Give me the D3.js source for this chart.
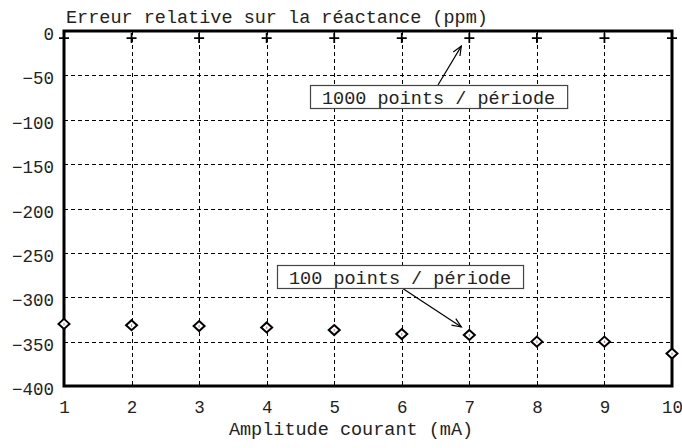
<!DOCTYPE html>
<html lang="fr">
<head>
  <meta charset="UTF-8">
  <script src="https://d3js.org/d3.v7.min.js"></script>
  <title>Erreur relative sur la réactance</title>
  <style>
    body { margin: 0; background: #fff; }
    text { font-family: "Liberation Mono", "Courier New", monospace; fill: #222; }
  </style>
</head>
<body>
  <div id="wrapper"></div>
  <script>
    // values
    const amplitudes = [1, 2, 3, 4, 5, 6, 7, 8, 9, 10]
    const err1000 = [-8, -8, -8, -8, -8, -8, -8, -8, -8, -8]
    const err100 = [-330, -331.5, -332.5, -334, -337, -341.5, -342.5, -350, -350, -363.5]
    const yTicks = [0, -50, -100, -150, -200, -250, -300, -350, -400]

    const dimensions = {
      width: 682,
      height: 448,
      margin: { top: 31, right: 10, bottom: 62, left: 64 }
    }
    dimensions.boundedWidth = dimensions.width - dimensions.margin.left - dimensions.margin.right
    dimensions.boundedHeight = dimensions.height - dimensions.margin.top - dimensions.margin.bottom

    const svg = d3.select("#wrapper")
      .append("svg")
      .attr("width", dimensions.width)
      .attr("height", dimensions.height)

    const bounds = svg.append("g")
      .attr("transform", `translate(${dimensions.margin.left},${dimensions.margin.top})`)

    const xScale = d3.scaleLinear()
      .domain([1, 10])
      .range([0, dimensions.boundedWidth])

    const yScale = d3.scaleLinear()
      .domain([-400, 0])
      .range([dimensions.boundedHeight, 0])

    /* grid */
    const grid = bounds.append("g")
      .attr("stroke", "#000")
      .attr("stroke-width", 1)
      .attr("stroke-dasharray", "4,3")

    grid.selectAll(".vgrid")
      .data(amplitudes.slice(1, -1))
      .join("line")
      .attr("x1", d => Math.round(xScale(d)) + 0.5)
      .attr("x2", d => Math.round(xScale(d)) + 0.5)
      .attr("y1", 0)
      .attr("y2", dimensions.boundedHeight)

    grid.selectAll(".hgrid")
      .data(yTicks.slice(1, -1))
      .join("line")
      .attr("x1", 0)
      .attr("x2", dimensions.boundedWidth)
      .attr("y1", d => Math.round(yScale(d)) + 0.5)
      .attr("y2", d => Math.round(yScale(d)) + 0.5)

    /* axes (labels only) */
    const yAxis = bounds.append("g")
      .call(d3.axisLeft(yScale).tickValues(yTicks).tickSize(0).tickPadding(10))
    yAxis.select(".domain").remove()
    yAxis.selectAll("text")
      .attr("dy", "0.49em")
      .style("font-size", "17.5px")
      .attr("fill", "#222")

    const xAxis = bounds.append("g")
      .attr("transform", `translate(0,${dimensions.boundedHeight})`)
      .call(d3.axisBottom(xScale).tickValues(amplitudes).tickFormat(d3.format("d")).tickSize(0).tickPadding(15))
    xAxis.select(".domain").remove()
    xAxis.selectAll("text")
      .style("font-size", "17.5px")
      .attr("fill", "#222")

    /* frame */
    bounds.append("rect")
      .attr("width", dimensions.boundedWidth)
      .attr("height", dimensions.boundedHeight)
      .attr("fill", "none")
      .attr("stroke", "#000")
      .attr("stroke-width", 3)

    /* 1000 points: crosses */
    const crosses = bounds.append("g")
      .selectAll("path")
      .data(amplitudes)
      .join("path")
      .attr("transform", (d, i) => `translate(${xScale(d)},${yScale(err1000[i])})`)
      .attr("d", "M-5,0H5M0,-5V5")
      .attr("stroke", "#000")
      .attr("stroke-width", 1.8)

    /* 100 points: diamonds */
    const diamonds = bounds.append("g")
      .selectAll("g")
      .data(amplitudes)
      .join("g")
      .attr("transform", (d, i) => `translate(${xScale(d)},${yScale(err100[i])})`)
    diamonds.append("path")
      .attr("d", "M0,-5L5.5,0L0,5L-5.5,0Z")
      .attr("fill", "#fff")
      .attr("stroke", "#000")
      .attr("stroke-width", 2)
    diamonds.append("line")
      .attr("y1", -1).attr("y2", 1.5)
      .attr("stroke", "#e04040")
      .attr("stroke-width", 0.8)

    /* annotations */
    const arrow = (g, x1, y1, x2, y2) => {
      const a = Math.atan2(y2 - y1, x2 - x1)
      const len = 10, spread = 0.4
      g.append("line")
        .attr("x1", x1).attr("y1", y1).attr("x2", x2).attr("y2", y2)
        .attr("stroke", "#000").attr("stroke-width", 1.2)
      g.append("path")
        .attr("d", `M${x2 - len * Math.cos(a - spread)},${y2 - len * Math.sin(a - spread)}L${x2},${y2}L${x2 - len * Math.cos(a + spread)},${y2 - len * Math.sin(a + spread)}`)
        .attr("fill", "none").attr("stroke", "#000").attr("stroke-width", 1.2)
    }

    const label = (text, x, y) => {
      const g = svg.append("g")
      const t = g.append("text")
        .attr("x", x + 12)
        .attr("y", y + 18.5)
        .style("font-size", "18.5px")
        .text(text)
      const w = t.node().getComputedTextLength()
      g.insert("rect", "text")
        .attr("x", x + 0.5).attr("y", y + 0.5)
        .attr("width", w + 24).attr("height", 23)
        .attr("fill", "#fff")
        .attr("stroke", "#444")
        .attr("stroke-width", 1.2)
      return g
    }

    const annot = svg.append("g")
    const mx = dimensions.margin.left, my = dimensions.margin.top
    arrow(annot, 438, 85, mx + xScale(7) - 8, my + yScale(err1000[6]) + 8)
    arrow(annot, 402, 288, mx + xScale(7) - 8, my + yScale(err100[6]) - 8)
    label("1000 points / période", 310, 85)
    label("100 points / période", 277, 265)

    /* titles */
    svg.append("text")
      .attr("x", 66)
      .attr("y", 23)
      .style("font-size", "18.5px")
      .text("Erreur relative sur la réactance (ppm)")

    svg.append("text")
      .attr("x", 351)
      .attr("y", 435)
      .attr("text-anchor", "middle")
      .style("font-size", "18.5px")
      .text("Amplitude courant (mA)")
  </script>
</body>
</html>
